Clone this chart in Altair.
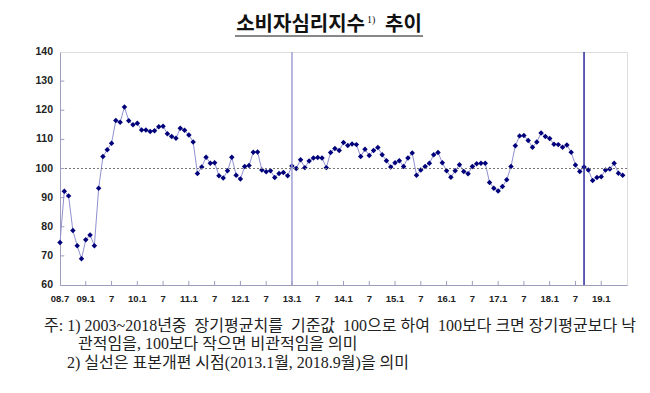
import altair as alt
import pandas as pd

# Monthly consumer sentiment index, 2008.7 - 2019.6
values = [
    74.6, 92.2, 90.6, 78.7, 73.5, 69.0, 75.5, 77.2, 73.5, 93.2, 104.1, 106.4,
    108.7, 116.5, 115.9, 121.1, 116.4, 115.0, 115.5, 113.2, 113.2, 112.7, 113.0, 114.3,
    114.5, 111.9, 111.0, 110.4, 113.8, 113.1, 111.5, 109.1, 98.3, 100.5, 103.9, 101.8,
    102.0, 97.5, 96.7, 99.2, 103.9, 97.7, 96.4, 100.7, 101.0, 105.6, 105.7, 99.5,
    98.9, 99.2, 96.9, 98.3, 98.6, 97.5, 100.9, 100.0, 103.0, 100.3, 102.6, 103.6,
    103.8, 103.6, 100.3, 105.5, 106.9, 106.2, 108.9, 107.9, 108.4, 108.2, 104.1, 106.6,
    104.5, 106.2, 107.2, 104.7, 102.7, 100.5, 102.0, 102.7, 100.7, 103.6, 105.3, 97.7,
    99.5, 100.7, 101.8, 104.7, 105.5, 102.0, 99.2, 97.0, 99.2, 101.3, 99.0, 98.2,
    100.7, 101.6, 101.8, 101.8, 95.2, 93.2, 92.3, 93.8, 96.1, 100.7, 107.8, 111.2,
    111.3, 109.6, 107.3, 109.1, 112.2, 111.0, 110.3, 108.3, 108.2, 107.3, 108.1, 105.6,
    101.2, 99.0, 100.5, 99.5, 95.9, 96.9, 97.2, 99.5, 99.8, 101.8, 98.4, 97.7,
]
month_index = list(range(len(values)))

tick_months = list(range(0, 127, 6))
tick_labels = ["08.7", "09.1", "7", "10.1", "7", "11.1", "7", "12.1", "7", "13.1", "7",
               "14.1", "7", "15.1", "7", "16.1", "7", "17.1", "7", "18.1", "7", "19.1"]
y_ticks = [60, 70, 80, 90, 100, 110, 120, 130, 140]
baseline_value = [100]
break_months = [54, 122]          # 2013.1, 2018.9 sample revisions
break_names = ["2013.1", "2018.9"]

title_main = "소비자심리지수"
title_sup = "1)"
title_tail = "추이"
NB = "\u00a0"
note_1 = ("주: 1) 2003~2018년중 " + NB + "장기평균치를 " + NB + "기준값 " + NB + "100으로 "
          + "하여 " + NB + "100보다 크면 장기평균보다 낙")
note_2 = "관적임을, 100보다 작으면 비관적임을 의미"
note_3 = "2) 실선은 표본개편 시점(2013.1월, 2018.9월)을 의미"

df = pd.DataFrame({"m": month_index, "v": values})
ticks_x = pd.DataFrame({"m": tick_months[1:]})
ticks_y = pd.DataFrame({"v": y_ticks[1:-1]})
xlab = pd.DataFrame({"m": tick_months, "label": tick_labels})
ylab = pd.DataFrame({"v": y_ticks, "label": [str(t) for t in y_ticks]})
breaks = pd.DataFrame({"m": break_months, "name": break_names})
base = pd.DataFrame({"v": baseline_value})

x_scale = alt.Scale(domain=[0, 132], nice=False, zero=False)
y_scale = alt.Scale(domain=[60, 140], nice=False, zero=False)

axis_color = "#9c9cbc"
x_axis = alt.Axis(values=tick_months, labels=False, title=None, grid=False,
                  ticks=False, domainColor=axis_color)
y_axis = alt.Axis(values=y_ticks, labels=False, title=None, grid=False,
                  ticks=False, domainColor=axis_color)

X = alt.X("m:Q", scale=x_scale, axis=x_axis)
Y = alt.Y("v:Q", scale=y_scale, axis=y_axis)

line = alt.Chart(df).mark_line(color="#9090d0", strokeWidth=1).encode(x=X, y=Y)
points = alt.Chart(df).mark_point(shape="diamond", filled=True, size=30,
                                  color="#00007a", opacity=1).encode(x=X, y=Y)

ref = alt.Chart(base).mark_rule(color="#777777", strokeDash=[2, 2], strokeWidth=1).encode(
    y=Y)

vlines = alt.Chart(breaks).mark_rule(strokeWidth=1.5).encode(
    x=X,
    color=alt.Color("name:N", scale=alt.Scale(domain=break_names,
                                              range=["#a0a0d8", "#2a2a9a"]), legend=None),
)

xt = alt.Chart(ticks_x).mark_rule(color=axis_color, strokeWidth=1).encode(
    x=X, y=alt.datum(60), y2=alt.datum(61.4))
yt = alt.Chart(ticks_y).mark_rule(color=axis_color, strokeWidth=1).encode(
    y=Y, x=alt.datum(0), x2=alt.datum(1))

xl = alt.Chart(xlab).mark_text(font="Liberation Sans", fontWeight="bold", fontSize=9.5,
                               color="#222222", align="center", baseline="middle",
                               dy=14).encode(x=X, y=alt.datum(60), text="label:N")
yl = alt.Chart(ylab).mark_text(font="Liberation Sans", fontWeight="bold", fontSize=10.5,
                               color="#222222", align="right", baseline="middle",
                               dx=-7).encode(y=Y, x=alt.datum(0), text="label:N")

tdf = pd.DataFrame({"a": [title_main], "b": [title_sup], "c": [title_tail]})
t1 = alt.Chart(tdf).mark_text(font="Noto Sans CJK KR", fontWeight="bold", fontSize=20,
                              align="right", baseline="alphabetic", color="#111111").encode(
    text="a:N", x=alt.value(305), y=alt.value(-21))
t2 = alt.Chart(tdf).mark_text(font="Liberation Serif", fontSize=10, align="left",
                              baseline="alphabetic", color="#111111").encode(
    text="b:N", x=alt.value(307), y=alt.value(-29))
t3 = alt.Chart(tdf).mark_text(font="Noto Sans CJK KR", fontWeight="bold", fontSize=20,
                              align="left", baseline="alphabetic", color="#111111").encode(
    text="c:N", x=alt.value(325), y=alt.value(-21))
uline = alt.Chart(tdf).mark_rule(color="#111111", strokeWidth=1.2).encode(
    x=alt.value(175), x2=alt.value(363), y=alt.value(-16))

ndf = pd.DataFrame({"n1": [note_1], "n2": [note_2], "n3": [note_3]})
note_font = "Liberation Serif, Noto Sans CJK KR"
n1 = alt.Chart(ndf).mark_text(font=note_font, fontSize=16, align="left",
                              baseline="middle", color="#222222").encode(
    text="n1:N", x=alt.value(-16), y=alt.value(274))
n2 = alt.Chart(ndf).mark_text(font=note_font, fontSize=16, align="left",
                              baseline="middle", color="#222222").encode(
    text="n2:N", x=alt.value(18), y=alt.value(292))
n3 = alt.Chart(ndf).mark_text(font=note_font, fontSize=16, align="left",
                              baseline="middle", color="#222222").encode(
    text="n3:N", x=alt.value(7), y=alt.value(311))

chart = alt.layer(
    line, points, ref, vlines, xt, yt, xl, yl, t1, t2, t3, uline, n1, n2, n3
).properties(
    width=567, height=233,
    autosize=alt.AutoSizeParams(type="none"),
    padding={"left": 52, "top": 44, "right": 15, "bottom": 100},
).configure_view(
    stroke=axis_color, strokeWidth=1
).configure(background="white")

chart.save("out.html", embed_options={"renderer": "svg", "actions": False})
